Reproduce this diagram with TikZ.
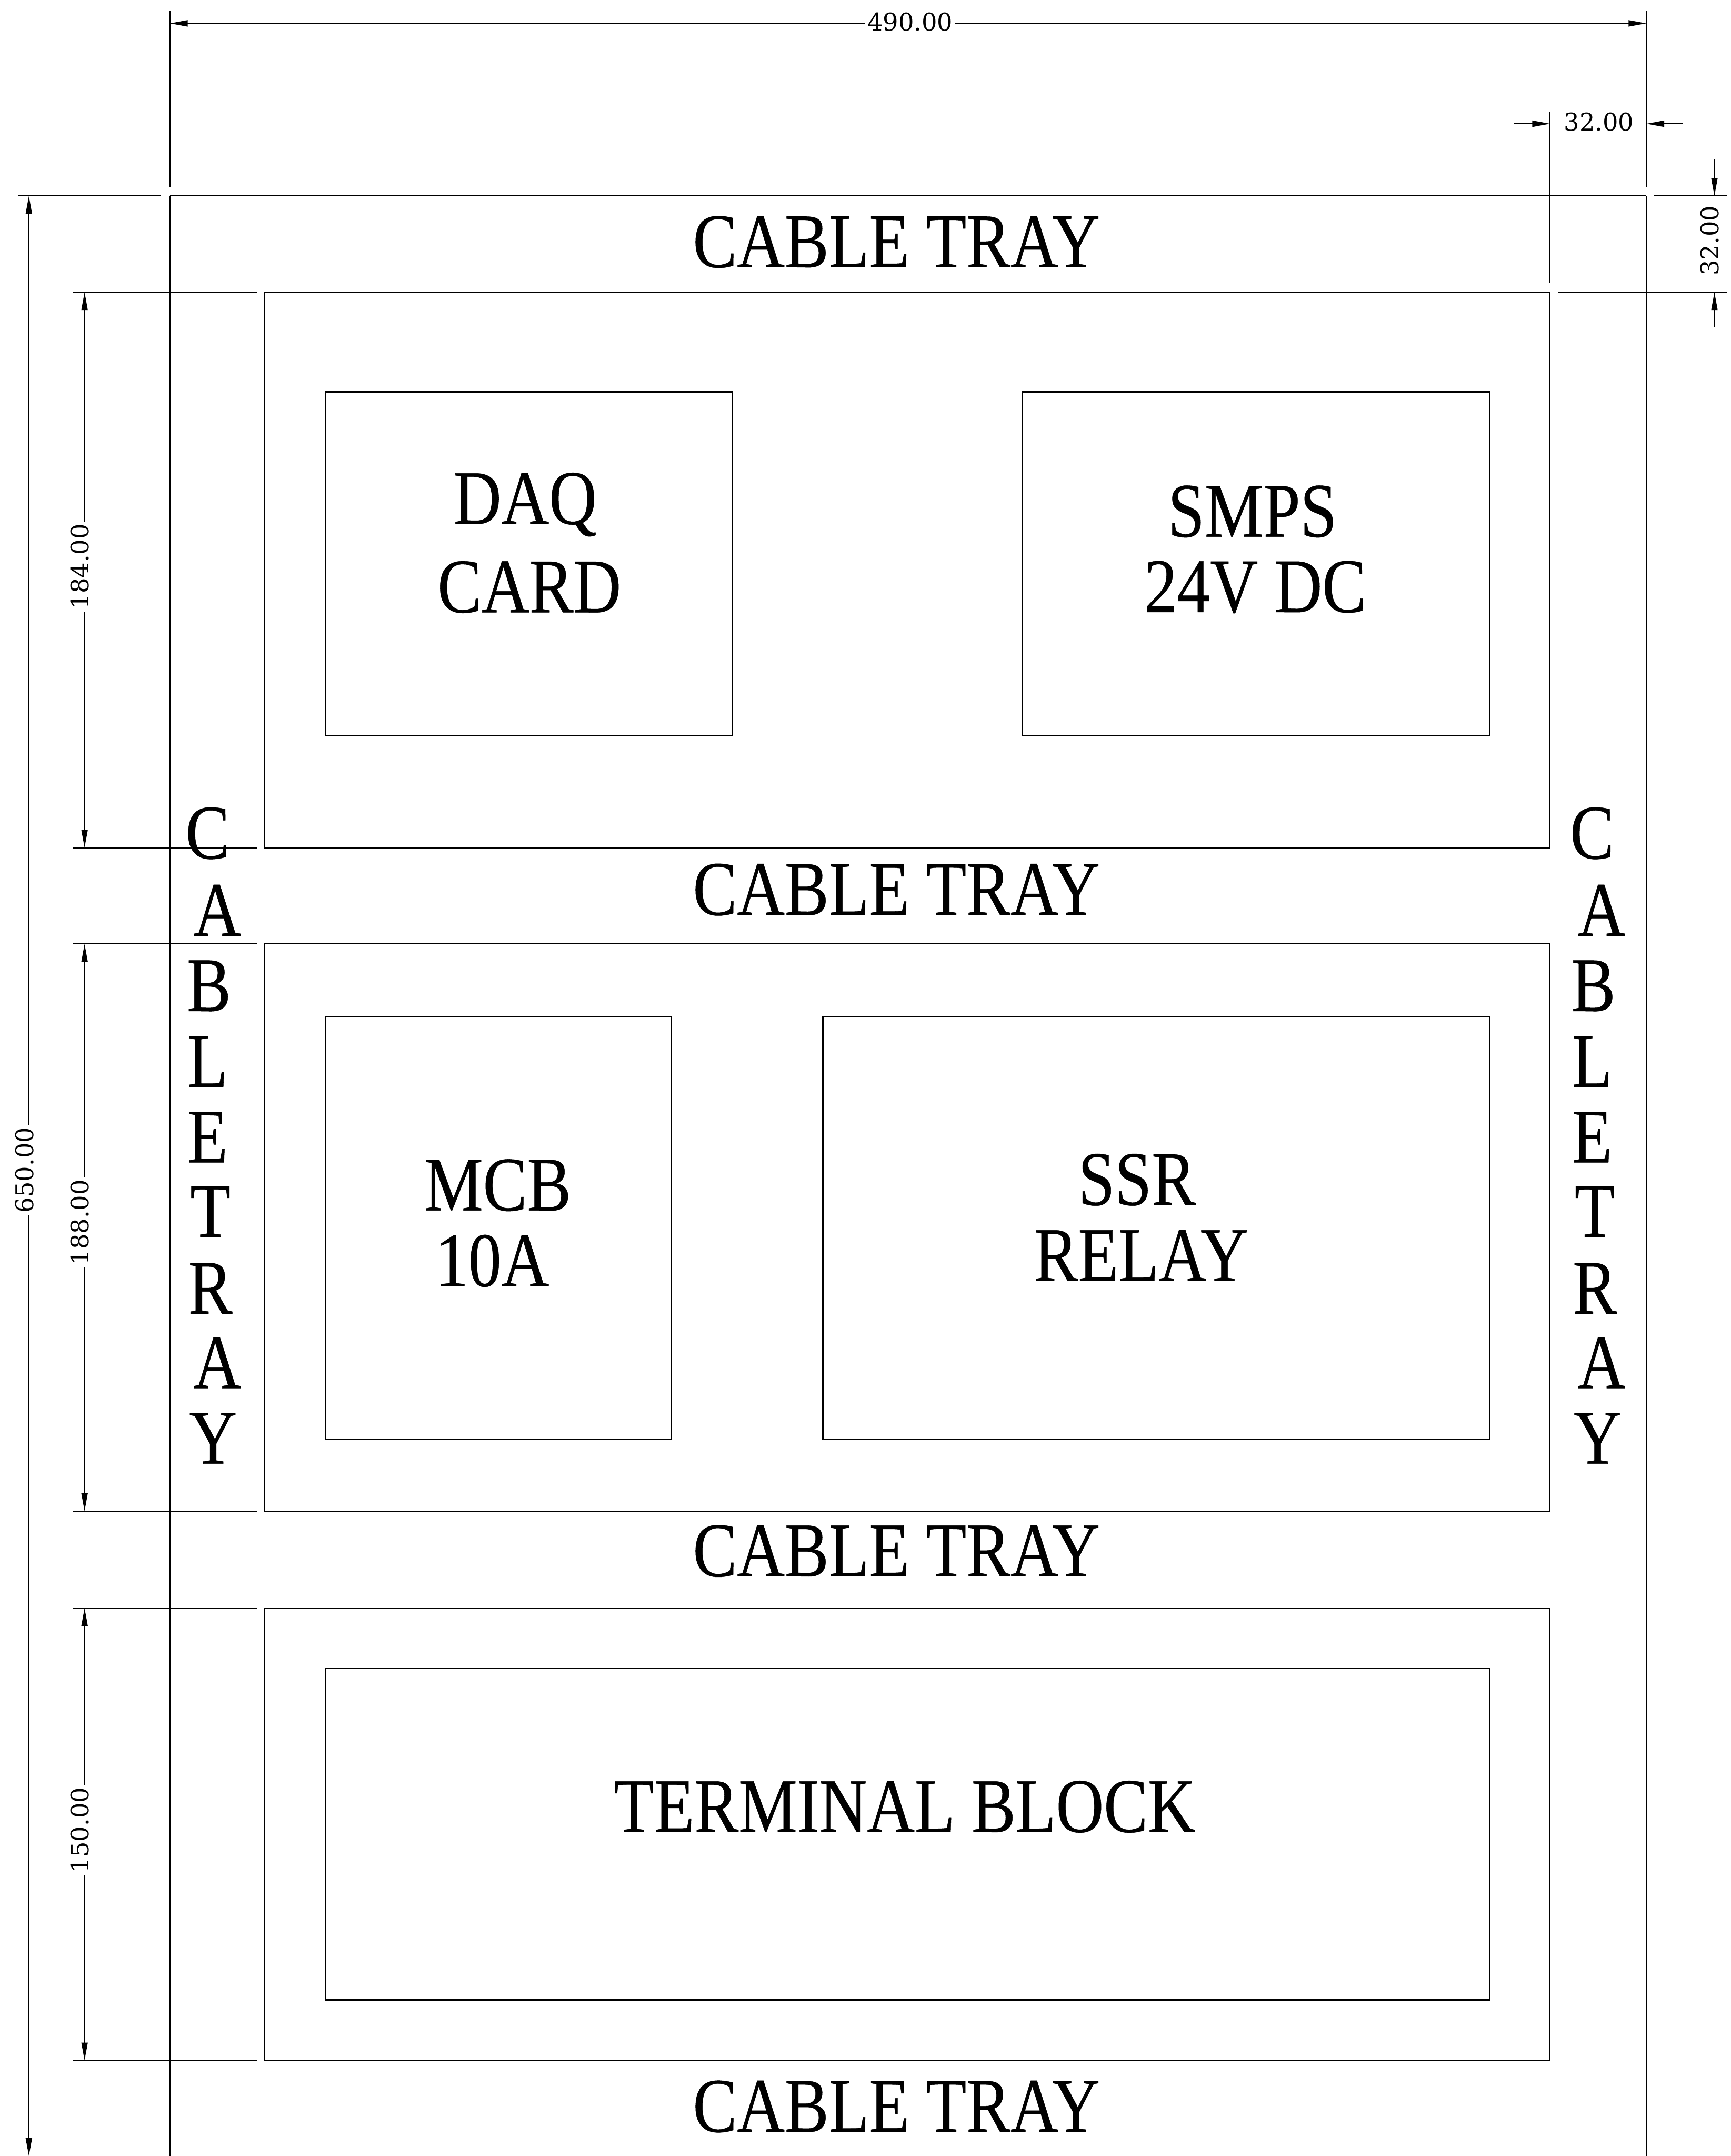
\documentclass[tikz,border=0pt]{standalone}
\usepackage{fontspec}
\usetikzlibrary{arrows.meta}
\newfontfamily\trayfont[FakeStretch=0.855,FakeBold=0.35]{Liberation Serif}
\newfontfamily\dimfont{DejaVu Serif}
\tikzset{
    edge/.style={line width=0.5pt},
    dimline/.style={edge, {Triangle[length=0.26cm,width=0.09cm]}-{Triangle[length=0.26cm,width=0.09cm]}},
    dimhalf/.style={edge, -{Triangle[length=0.26cm,width=0.09cm]}},
    dimtext/.style={font=\dimfont\fontsize{10.1}{12}\selectfont, fill=white, inner sep=1pt},
    traytext/.style={font=\trayfont\fontsize{32}{36}\selectfont, inner sep=0pt},
}
\begin{document}
\begin{tikzpicture}[x=0.02cm,y=-0.02cm]
        \useasboundingbox (0,0) rectangle (1259,1568);

        % outer frame and witness lines
        \coordinate (widthL) at (123.5,17);
        \coordinate (widthR) at (1197.5,17);
        \coordinate (trayL) at (123.5,142.5);
        \coordinate (trayR) at (1197.5,142.5);
        \coordinate (heightT) at (21,142.5);
        \coordinate (heightB) at (21,1568);
        \draw[edge] (trayL) -- (trayR);
        \draw[edge] (trayL) -- (123.5,1568);
        \draw[edge] (trayR) -- (1197.5,1568);
        \draw[edge] (123.5,8) -- (123.5,136);
        \draw[edge] (1197.5,8) -- (1197.5,136);
        \draw[edge] (13,142.5) -- (117,142.5);
        \draw[edge] (1203,142.5) -- (1256,142.5);
        \draw[edge] (1127.5,81) -- (1127.5,206);
        \draw[edge] (1133,212.5) -- (1256,212.5);

        % the three panels
        \draw[edge] (192.5,212.5) rectangle (1127.5,616.5);
        \draw[edge] (192.5,686.5) rectangle (1127.5,1099);
        \draw[edge] (192.5,1169.5) rectangle (1127.5,1498.5);
        \foreach \ypos in {212.5,616.5,686.5,1099,1169.5,1498.5}
            \draw[edge] (53,\ypos) -- (187,\ypos);

        % devices
        \draw[edge] (236.5,285) rectangle (532.5,535);
        \draw[edge] (743.5,285) rectangle (1083.5,535);
        \draw[edge] (236.5,739.5) rectangle (488.5,1046.5);
        \draw[edge] (598.5,739.5) rectangle (1083.5,1046.5);
        \draw[edge] (236.5,1213.5) rectangle (1083.5,1454.5);

        % dimensions
        \draw[dimline] (widthL) -- (widthR);
        \node[dimtext] (dimWidth) at (662,16) {490.00};
        \draw[dimline] (heightT) -- (heightB);
        \node[dimtext, rotate=90] (dimHeight) at (18,851) {650.00};
        \draw[dimline] (61.5,212.5) -- (61.5,616.5);
        \node[dimtext, rotate=90] (dimDaq) at (58,412) {184.00};
        \draw[dimline] (61.5,686.5) -- (61.5,1099);
        \node[dimtext, rotate=90] (dimMcb) at (58,889) {188.00};
        \draw[dimline] (61.5,1169.5) -- (61.5,1498.5);
        \node[dimtext, rotate=90] (dimBlock) at (58,1331) {150.00};

        \coordinate (gapA) at (1101,90);
        \coordinate (gapB) at (1224,90);
        \draw[dimhalf] (gapA) -- (1127.5,90);
        \draw[dimhalf] (gapB) -- (1197.5,90);
        \node[dimtext] (dimGapX) at (1163,88.5) {32.00};
        \coordinate (gapC) at (1247,116);
        \coordinate (gapD) at (1247,238);
        \draw[dimhalf] (gapC) -- (1247,142.5);
        \draw[dimhalf] (gapD) -- (1247,212.5);
        \node[dimtext, rotate=90] (dimGapY) at (1243.5,175) {32.00};

        % labels
        \node[traytext] (trayA) at (652,176) {CABLE TRAY};
        \node[traytext] (trayB) at (652,647) {CABLE TRAY};
        \node[traytext] (trayC) at (652,1128) {CABLE TRAY};
        \node[traytext] (trayD) at (652,1532) {CABLE TRAY};

        \node[traytext] (daqA) at (382,367) {DAQ};
        \node[traytext] (daqB) at (385,427) {CARD};
        \node[traytext] (smpsA) at (911,372) {SMPS};
        \node[traytext] (smpsB) at (913,427) {24V DC};
        \node[traytext] (mcbA) at (362,862) {MCB};
        \node[traytext] (mcbB) at (358,917) {10A};
        \node[traytext] (ssrA) at (827,858) {SSR};
        \node[traytext] (ssrB) at (830,913) {RELAY};
        \node[traytext] (block) at (658,1314) {TERMINAL BLOCK};

        % side trays, one letter per line
        \foreach \side/\xbase in {L/151,R/1158}
            \foreach \ch/\dx/\ypos in {C/0/606,A/7/662,B/1/717,L/0/772,E/0/827,T/2/881,R/2/937,A/7/991,Y/4/1046}
                \node[traytext] (side\side\ypos) at (\xbase+\dx,\ypos) {\ch};
    \end{tikzpicture}
\end{document}
